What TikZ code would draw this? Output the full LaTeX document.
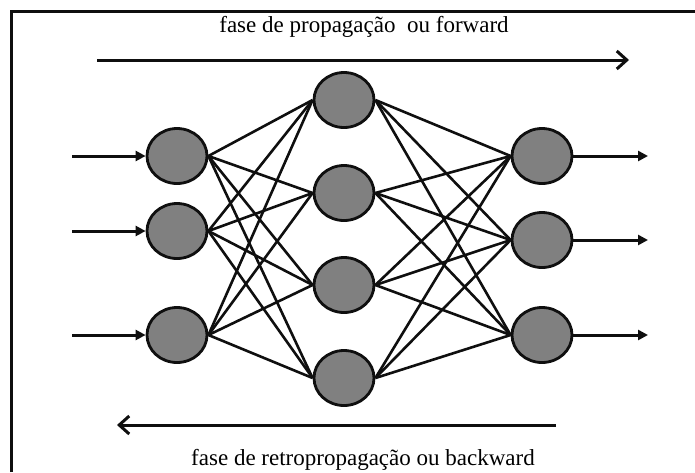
\documentclass[tikz,border=0pt]{standalone}
\usepackage{fontspec}
\setmainfont{Liberation Serif}
\usetikzlibrary{shapes.geometric, arrows.meta}
\definecolor{colNeuron}{RGB}{128,128,128}
\definecolor{colBorder}{RGB}{15,15,15}
\tikzset{
  neuron/.style={
    ellipse, draw=colBorder, line width=2.8pt,
    fill=colNeuron, inner sep=0pt,
    minimum width=60pt, minimum height=55pt
  },
  link/.style={line width=2.6pt, color=colBorder},
  ioArr/.style={-{Triangle[length=10pt,width=10pt]}, line width=3pt, color=colBorder},
  phaseArr/.style={-{Straight Barb[length=10pt,width=18pt]}, line width=3pt, color=colBorder},
  phaseLabel/.style={font=\fontsize{23}{27}\selectfont},
}

\begin{document}
\begin{tikzpicture}[x=1pt, y=-1pt]
\useasboundingbox (0,0) rectangle (695,472);

% ---- Frame -----------------------------------------------------
\draw[line width=3pt, color=colBorder] (11,472) -- (11,11) -- (695,11);

% ---- Neurons ---------------------------------------------------
\node[neuron] (in1) at (177,156) {};
\node[neuron] (in2) at (177,231) {};
\node[neuron] (in3) at (177,335) {};

\node[neuron] (hid1) at (344,100) {};
\node[neuron] (hid2) at (344,193) {};
\node[neuron] (hid3) at (344,285) {};
\node[neuron] (hid4) at (344,378) {};

\node[neuron] (out1) at (542,156) {};
\node[neuron] (out2) at (542,240) {};
\node[neuron] (out3) at (542,335) {};

% ---- Free ends of the input/output arrows ----------------------
\coordinate (x1) at (72,156);
\coordinate (x2) at (72,231);
\coordinate (x3) at (72,335);
\coordinate (y1) at (648,156);
\coordinate (y2) at (648,240);
\coordinate (y3) at (648,335);

% ---- Connections -----------------------------------------------
\foreach \i in {1,2,3} {
  \draw[ioArr] (x\i) -- (in\i.west);
  \draw[ioArr] (out\i.east) -- (y\i);
  \foreach \h in {1,...,4} {
    \draw[link] (in\i.east) -- (hid\h.west);
    \draw[link] (hid\h.east) -- (out\i.west);
  }
}

% ---- Phase arrows and labels -----------------------------------
\coordinate (fwdStart) at (97,60);
\coordinate (fwdEnd) at (629,60);
\coordinate (bwdStart) at (556,425);
\coordinate (bwdEnd) at (117,425);

\draw[phaseArr] (fwdStart) -- (fwdEnd);
\draw[phaseArr] (bwdStart) -- (bwdEnd);

\node[phaseLabel] (fwdLabel) at (364,27) {fase de propagação~ ou forward};
\node[phaseLabel] (bwdLabel) at (363,460) {fase de retropropagação ou backward};

\end{tikzpicture}
\end{document}
